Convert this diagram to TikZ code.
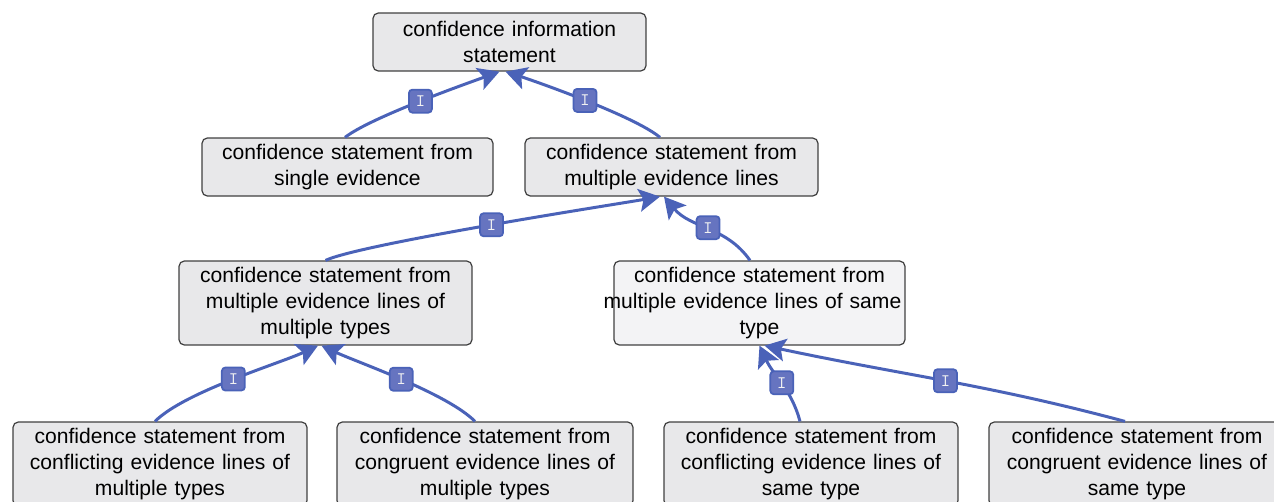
\documentclass[tikz,border=0pt]{standalone}
\usepackage{fontspec}
\setmainfont{Liberation Sans}
\usetikzlibrary{arrows.meta}

\definecolor{boxgray}{HTML}{E8E8EA}
\definecolor{boxlight}{HTML}{F3F3F5}
\definecolor{linkblue}{HTML}{4A62B8}
\definecolor{tagblue}{HTML}{6674C0}

\begin{document}
\begin{tikzpicture}
  [x=0.02cm,y=-0.02cm,
   stmt/.style={rectangle, rounded corners=3pt, draw=black!75, line width=0.7pt, fill=boxgray,
     inner xsep=0pt, align=center, font=\fontsize{12}{14.7}\selectfont},
   twoline/.style={minimum height=1.16cm},
   threeline/.style={minimum height=1.68cm},
   link/.style={draw=linkblue, line width=1.7pt, -{Stealth[length=12pt,width=13pt,inset=2.5pt]}},
   tag/.style={rectangle, rounded corners=2pt, fill=tagblue, draw=linkblue, line width=1pt,
     minimum size=0.46cm, inner sep=0pt, text=white!90!gray, font=\ttfamily}]
  \useasboundingbox (0,0) rectangle (1274,501);
  \clip (0,0) rectangle (1274,501);

  \node[stmt,twoline,text width=5.46cm] (info) at (509.5,42) {confidence information\\statement};
  \node[stmt,twoline,text width=5.82cm] (single) at (347.5,167) {confidence statement from\\single evidence};
  \node[stmt,twoline,text width=5.86cm] (multi) at (671.5,167) {confidence statement from\\multiple evidence lines};
  \node[stmt,threeline,text width=5.86cm] (multtyp) at (325.5,303) {confidence statement from\\multiple evidence lines of\\multiple types};
  \node[stmt,threeline,text width=5.82cm,fill=boxlight] (sametyp) at (759.5,303) {confidence statement from\\\hspace*{-8pt}multiple evidence lines of same\\type};
  \node[stmt,threeline,text width=5.88cm] (confmt) at (160,464) {confidence statement from\\conflicting evidence lines of\\multiple types};
  \node[stmt,threeline,text width=5.92cm] (congmt) at (485,464) {confidence statement from\\congruent evidence lines of\\multiple types};
  \node[stmt,threeline,text width=5.88cm] (confst) at (811,464) {confidence statement from\\conflicting evidence lines of\\same type};
  \node[stmt,threeline,text width=5.92cm] (congst) at (1137,464) {confidence statement from\\congruent evidence lines of\\same type};

  \foreach \from/\fs/\to/\ts/\o/\i/\l in {single/-0.05cm/info/-0.2cm/38/200/0.5,
      multi/-0.23cm/info/-0.08cm/140/-18/0.5,
      multtyp/0cm/multi/-0.23cm/25/190/0.3,
      sametyp/-0.19cm/multi/-0.15cm/125/-50/1,
      confmt/-0.1cm/multtyp/-0.15cm/45/205/0.6,
      congmt/-0.2cm/multtyp/-0.08cm/135/-25/0.6,
      confst/-0.22cm/sametyp/0cm/105/-65/1,
      congst/-0.24cm/sametyp/0.1cm/165/-12/1}
    \draw[link] ([xshift=\fs]\from.north) to[out=\o,in=\i,looseness=\l] node[tag] {I} ([xshift=\ts]\to.south);

\end{tikzpicture}
\end{document}
